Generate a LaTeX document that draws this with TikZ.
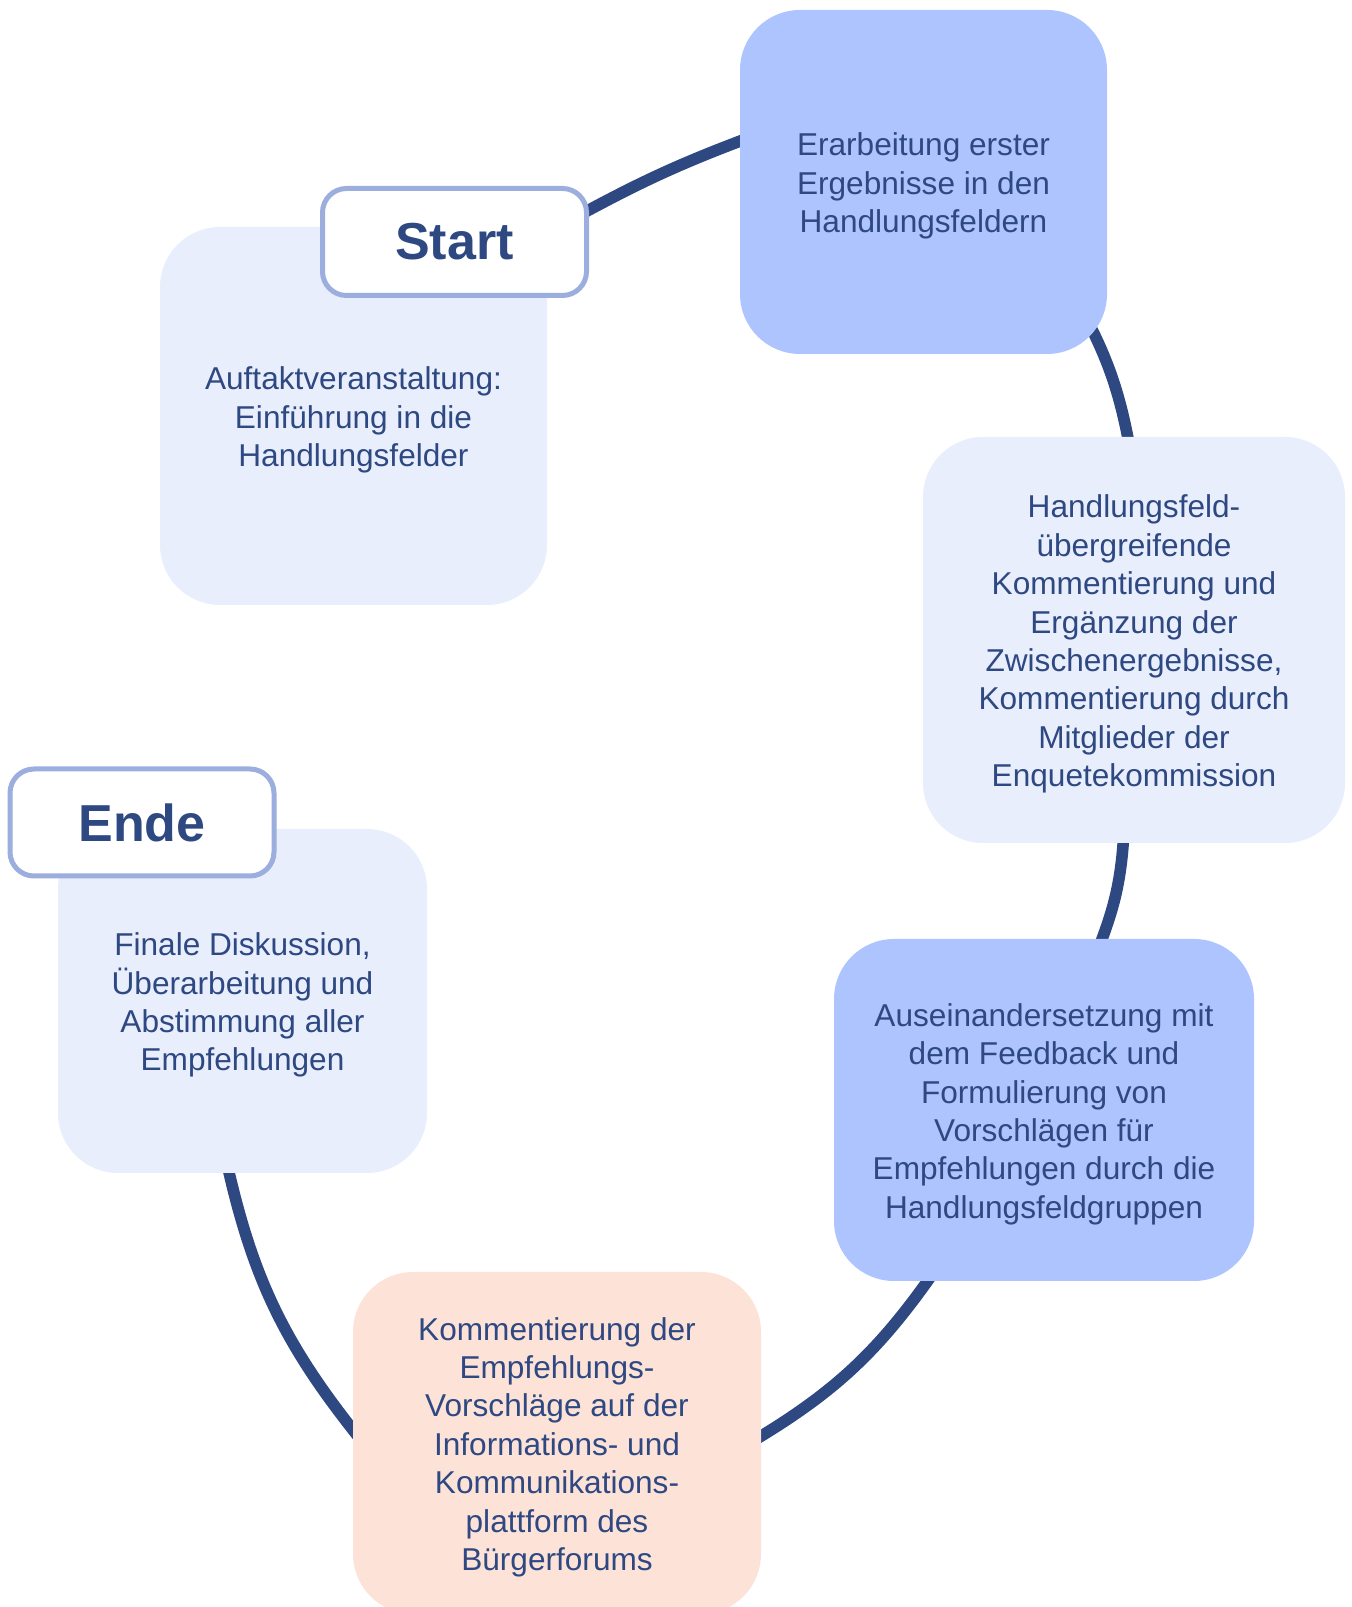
\documentclass[tikz,border=0pt]{standalone}
\usepackage{fontspec}
\setmainfont{Liberation Sans}
\usepackage{tikz}
\usetikzlibrary{backgrounds}

\definecolor{navy}{HTML}{2E4882}
\definecolor{paleblue}{HTML}{E8EEFC}
\definecolor{midblue}{HTML}{AEC4FE}
\definecolor{peach}{HTML}{FDE2D8}
\definecolor{frameblue}{HTML}{9CAEDE}
\newcommand{\topstrut}{\rule{0pt}{15.5pt}}

\begin{document}
\begin{tikzpicture}[x=0.5pt,y=0.5pt]
        \tikzset{box/.style = {shape=rectangle,rounded corners=30pt,align=center,text=navy,inner sep=0pt,font=\fontsize{15.8}{19.2}\selectfont}}
        \tikzset{tagbox/.style = {shape=rectangle,rounded corners=12pt,draw=frameblue,line width=2.5pt,fill=white,text=navy,inner sep=0pt,minimum width=132pt,minimum height=53.5pt,font=\fontsize{26}{30}\selectfont\bfseries}}
        \tikzset{edge/.style = {draw=navy,line width=5.8pt}}
        \useasboundingbox (0,0) rectangle (1351,1607);
        % steps
        \node[box,fill=paleblue,minimum width=193.5pt,minimum height=189pt] (auftakt) at (353.5,1191) {\topstrut Auftaktveranstaltung:\\Einführung in die\\Handlungsfelder};
        \node[tagbox] (startlbl) at (454.5,1365) {Start};
        \node[box,fill=midblue,minimum width=183.5pt,minimum height=172pt] (erarb) at (923.5,1425) {\topstrut Erarbeitung erster\\Ergebnisse in den\\Handlungsfeldern};
        \node[box,fill=paleblue,minimum width=211pt,minimum height=203pt] (hfeld) at (1134,967) {\topstrut Handlungsfeld-\\übergreifende\\Kommentierung und\\Ergänzung der\\Zwischenergebnisse,\\Kommentierung durch\\Mitglieder der\\Enquetekommission};
        \node[box,fill=midblue,minimum width=210pt,minimum height=171pt] (ausein) at (1044,497) {\topstrut Auseinandersetzung mit\\dem Feedback und\\Formulierung von\\Vorschlägen für\\Empfehlungen durch die\\Handlungsfeldgruppen};
        \node[box,fill=peach,minimum width=204pt,minimum height=171pt] (komm) at (557,164) {\topstrut Kommentierung der\\Empfehlungs-\\Vorschläge auf der\\Informations- und\\Kommunikations-\\plattform des\\Bürgerforums};
        \node[box,fill=paleblue,minimum width=184.5pt,minimum height=172pt] (finale) at (242.5,606) {\topstrut Finale Diskussion,\\Überarbeitung und\\Abstimmung aller\\Empfehlungen};
        \node[tagbox] (endelbl) at (142,784.5) {Ende};
        %edges
        \begin{pgfonlayer}{background}
        \draw[edge] ([shift={(-13,25)}]startlbl.east) to[bend left=4] ([shift={(14,46)}]erarb.west);
        \draw[edge] ([shift={(-29,51)}]erarb.south east) to[bend left=9] ([shift={(-4,-12)}]hfeld.north);
        \draw[edge] ([shift={(-10,12)}]hfeld.south) to[bend left=9] ([shift={(54,-11)}]ausein.north);
        \draw[edge] ([shift={(-111,8)}]ausein.south) to[bend left=12] ([shift={(-10,1)}]komm.east);
        \draw[edge] ([shift={(6,6)}]komm.west) to[bend left=13] ([shift={(-16,12)}]finale.south);
        \end{pgfonlayer}
\end{tikzpicture}
\end{document}
